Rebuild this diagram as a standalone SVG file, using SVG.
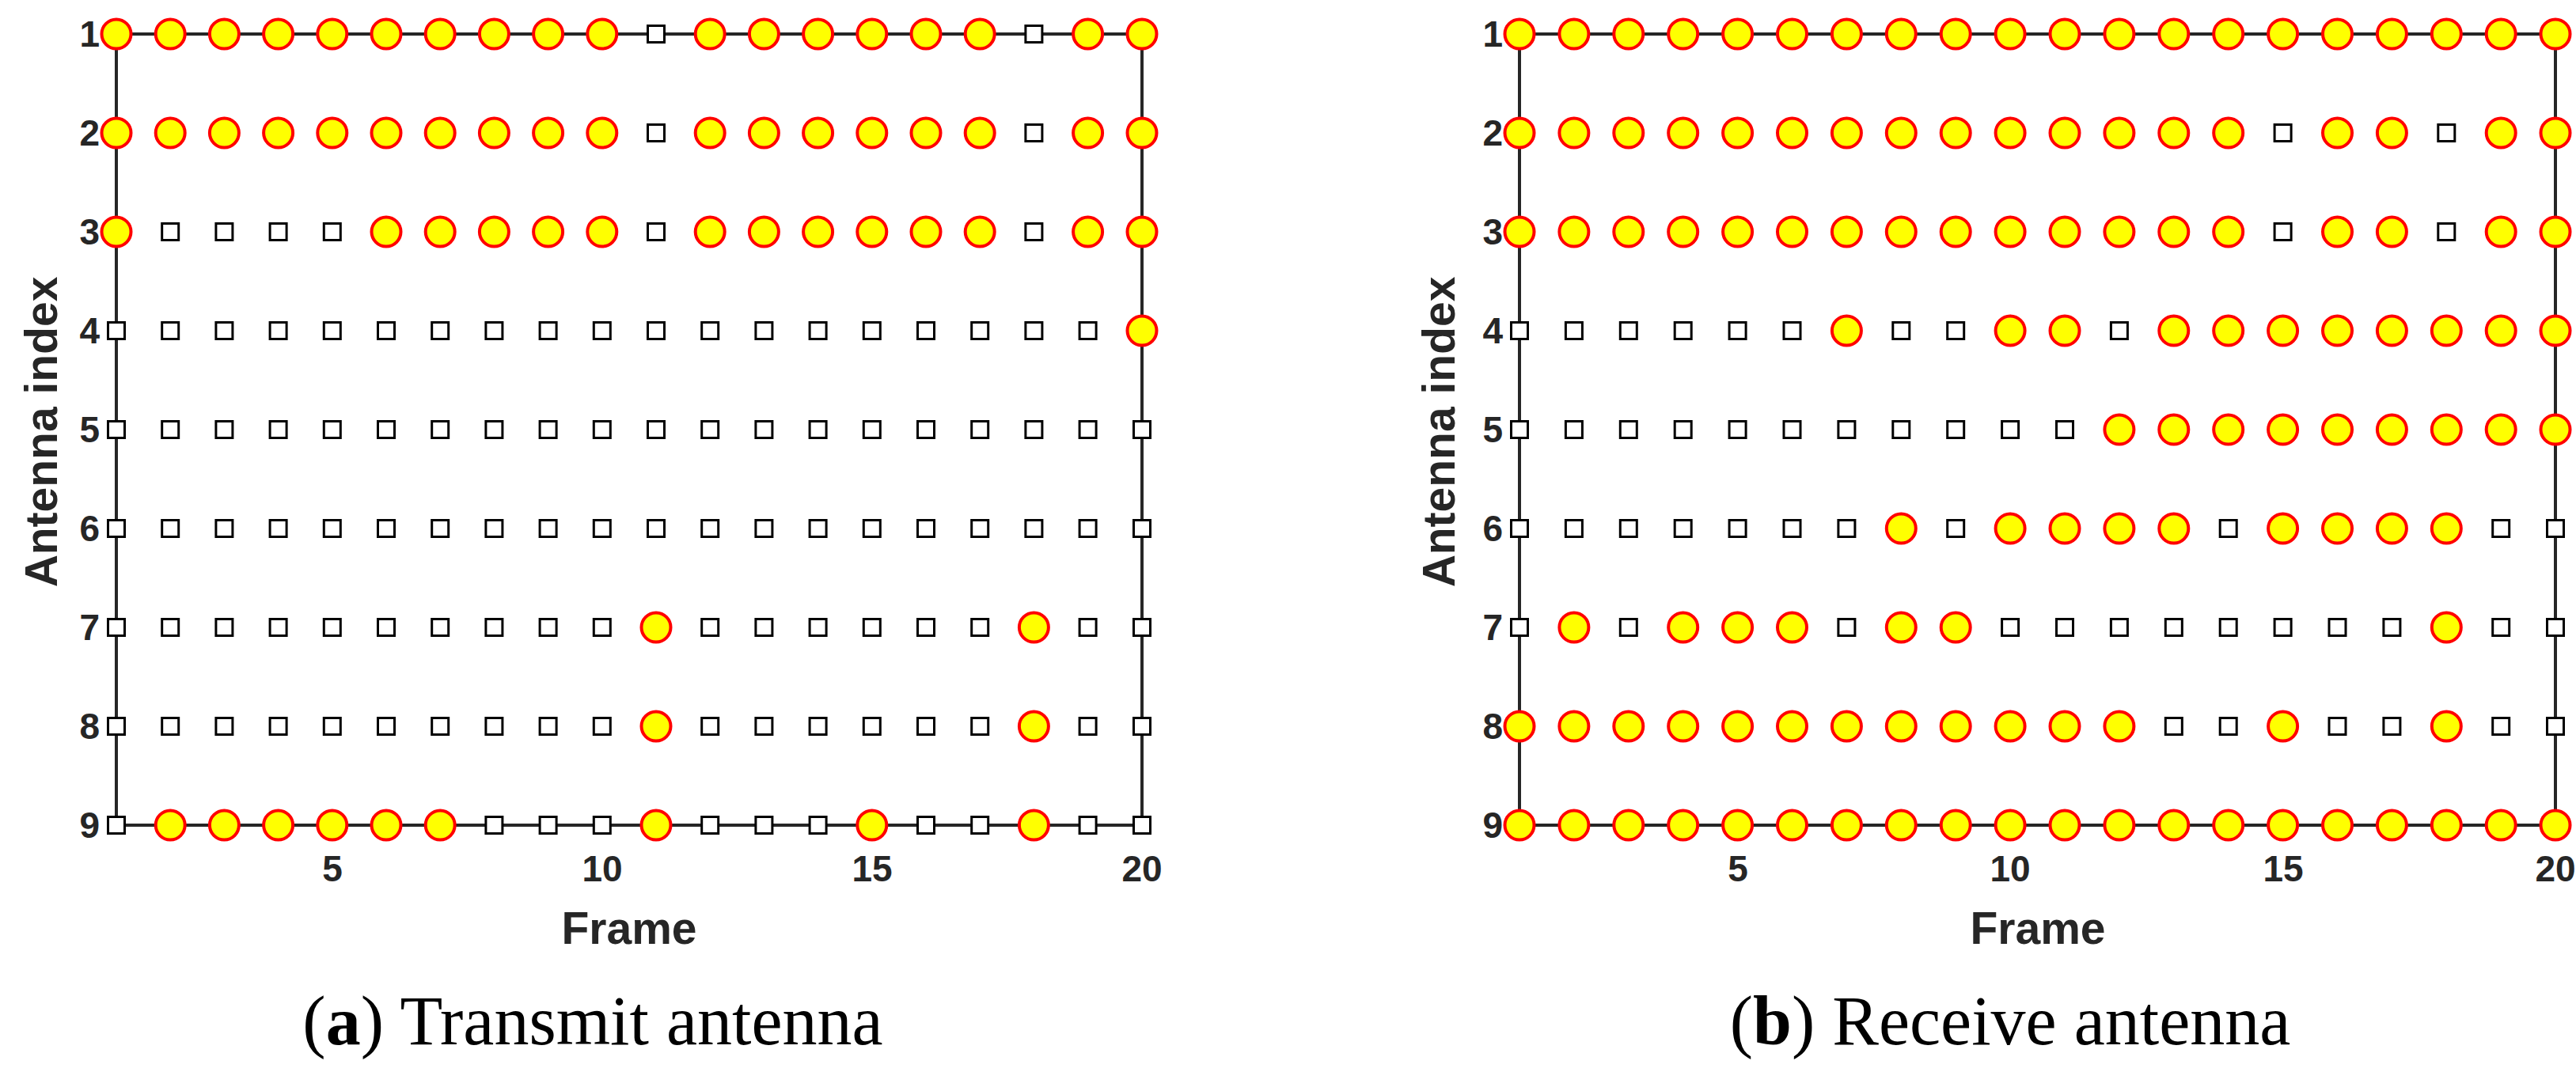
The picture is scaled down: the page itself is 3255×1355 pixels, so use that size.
<svg xmlns="http://www.w3.org/2000/svg" xmlns:xlink="http://www.w3.org/1999/xlink" width="3255" height="1355" viewBox="0 0 3255 1355">
<style>
.ax{fill:none;stroke:#262626;stroke-width:4}
.tk{font-family:"Liberation Sans",Arial,sans-serif;font-weight:bold;font-size:46px;fill:#262626}
.lb{font-family:"Liberation Sans",Arial,sans-serif;font-weight:bold;font-size:57px;fill:#262626;text-anchor:middle}
.cap{font-family:"Liberation Serif","Times New Roman",serif;font-size:88px;fill:#000;text-anchor:middle}
</style>
<defs>
<circle id="c" r="18.5" fill="#ffff00" stroke="#ff0000" stroke-width="4"/>
<rect id="s" x="-10.5" y="-10.5" width="21" height="21" fill="#fff" stroke="#000" stroke-width="3"/>
</defs>
<rect width="3255" height="1355" fill="#fff"/>
<g id="panelA">
<rect class="ax" x="147" y="43" width="1296" height="1000"/>
<g class="tk" text-anchor="end">
<text x="126" y="59">1</text><text x="126" y="184">2</text><text x="126" y="309">3</text><text x="126" y="434">4</text><text x="126" y="559">5</text><text x="126" y="684">6</text><text x="126" y="809">7</text><text x="126" y="934">8</text><text x="126" y="1059">9</text>
</g>
<g class="tk" text-anchor="middle">
<text x="420" y="1114">5</text><text x="761" y="1114">10</text><text x="1102" y="1114">15</text><text x="1443" y="1114">20</text>
</g>
<text class="lb" x="795" y="1193">Frame</text>
<text class="lb" transform="translate(72,546) rotate(-90)">Antenna index</text>
<g transform="translate(147,43)"><use href="#c" x="0"/><use href="#c" x="68.2"/><use href="#c" x="136.4"/><use href="#c" x="204.6"/><use href="#c" x="272.8"/><use href="#c" x="341"/><use href="#c" x="409.2"/><use href="#c" x="477.4"/><use href="#c" x="545.6"/><use href="#c" x="613.8"/><use href="#s" x="682"/><use href="#c" x="750.2"/><use href="#c" x="818.4"/><use href="#c" x="886.6"/><use href="#c" x="954.8"/><use href="#c" x="1023"/><use href="#c" x="1091.2"/><use href="#s" x="1159.4"/><use href="#c" x="1227.6"/><use href="#c" x="1296"/></g>
<g transform="translate(147,168)"><use href="#c" x="0"/><use href="#c" x="68.2"/><use href="#c" x="136.4"/><use href="#c" x="204.6"/><use href="#c" x="272.8"/><use href="#c" x="341"/><use href="#c" x="409.2"/><use href="#c" x="477.4"/><use href="#c" x="545.6"/><use href="#c" x="613.8"/><use href="#s" x="682"/><use href="#c" x="750.2"/><use href="#c" x="818.4"/><use href="#c" x="886.6"/><use href="#c" x="954.8"/><use href="#c" x="1023"/><use href="#c" x="1091.2"/><use href="#s" x="1159.4"/><use href="#c" x="1227.6"/><use href="#c" x="1296"/></g>
<g transform="translate(147,293)"><use href="#c" x="0"/><use href="#s" x="68.2"/><use href="#s" x="136.4"/><use href="#s" x="204.6"/><use href="#s" x="272.8"/><use href="#c" x="341"/><use href="#c" x="409.2"/><use href="#c" x="477.4"/><use href="#c" x="545.6"/><use href="#c" x="613.8"/><use href="#s" x="682"/><use href="#c" x="750.2"/><use href="#c" x="818.4"/><use href="#c" x="886.6"/><use href="#c" x="954.8"/><use href="#c" x="1023"/><use href="#c" x="1091.2"/><use href="#s" x="1159.4"/><use href="#c" x="1227.6"/><use href="#c" x="1296"/></g>
<g transform="translate(147,418)"><use href="#s" x="0"/><use href="#s" x="68.2"/><use href="#s" x="136.4"/><use href="#s" x="204.6"/><use href="#s" x="272.8"/><use href="#s" x="341"/><use href="#s" x="409.2"/><use href="#s" x="477.4"/><use href="#s" x="545.6"/><use href="#s" x="613.8"/><use href="#s" x="682"/><use href="#s" x="750.2"/><use href="#s" x="818.4"/><use href="#s" x="886.6"/><use href="#s" x="954.8"/><use href="#s" x="1023"/><use href="#s" x="1091.2"/><use href="#s" x="1159.4"/><use href="#s" x="1227.6"/><use href="#c" x="1296"/></g>
<g transform="translate(147,543)"><use href="#s" x="0"/><use href="#s" x="68.2"/><use href="#s" x="136.4"/><use href="#s" x="204.6"/><use href="#s" x="272.8"/><use href="#s" x="341"/><use href="#s" x="409.2"/><use href="#s" x="477.4"/><use href="#s" x="545.6"/><use href="#s" x="613.8"/><use href="#s" x="682"/><use href="#s" x="750.2"/><use href="#s" x="818.4"/><use href="#s" x="886.6"/><use href="#s" x="954.8"/><use href="#s" x="1023"/><use href="#s" x="1091.2"/><use href="#s" x="1159.4"/><use href="#s" x="1227.6"/><use href="#s" x="1296"/></g>
<g transform="translate(147,668)"><use href="#s" x="0"/><use href="#s" x="68.2"/><use href="#s" x="136.4"/><use href="#s" x="204.6"/><use href="#s" x="272.8"/><use href="#s" x="341"/><use href="#s" x="409.2"/><use href="#s" x="477.4"/><use href="#s" x="545.6"/><use href="#s" x="613.8"/><use href="#s" x="682"/><use href="#s" x="750.2"/><use href="#s" x="818.4"/><use href="#s" x="886.6"/><use href="#s" x="954.8"/><use href="#s" x="1023"/><use href="#s" x="1091.2"/><use href="#s" x="1159.4"/><use href="#s" x="1227.6"/><use href="#s" x="1296"/></g>
<g transform="translate(147,793)"><use href="#s" x="0"/><use href="#s" x="68.2"/><use href="#s" x="136.4"/><use href="#s" x="204.6"/><use href="#s" x="272.8"/><use href="#s" x="341"/><use href="#s" x="409.2"/><use href="#s" x="477.4"/><use href="#s" x="545.6"/><use href="#s" x="613.8"/><use href="#c" x="682"/><use href="#s" x="750.2"/><use href="#s" x="818.4"/><use href="#s" x="886.6"/><use href="#s" x="954.8"/><use href="#s" x="1023"/><use href="#s" x="1091.2"/><use href="#c" x="1159.4"/><use href="#s" x="1227.6"/><use href="#s" x="1296"/></g>
<g transform="translate(147,918)"><use href="#s" x="0"/><use href="#s" x="68.2"/><use href="#s" x="136.4"/><use href="#s" x="204.6"/><use href="#s" x="272.8"/><use href="#s" x="341"/><use href="#s" x="409.2"/><use href="#s" x="477.4"/><use href="#s" x="545.6"/><use href="#s" x="613.8"/><use href="#c" x="682"/><use href="#s" x="750.2"/><use href="#s" x="818.4"/><use href="#s" x="886.6"/><use href="#s" x="954.8"/><use href="#s" x="1023"/><use href="#s" x="1091.2"/><use href="#c" x="1159.4"/><use href="#s" x="1227.6"/><use href="#s" x="1296"/></g>
<g transform="translate(147,1043)"><use href="#s" x="0"/><use href="#c" x="68.2"/><use href="#c" x="136.4"/><use href="#c" x="204.6"/><use href="#c" x="272.8"/><use href="#c" x="341"/><use href="#c" x="409.2"/><use href="#s" x="477.4"/><use href="#s" x="545.6"/><use href="#s" x="613.8"/><use href="#c" x="682"/><use href="#s" x="750.2"/><use href="#s" x="818.4"/><use href="#s" x="886.6"/><use href="#c" x="954.8"/><use href="#s" x="1023"/><use href="#s" x="1091.2"/><use href="#c" x="1159.4"/><use href="#s" x="1227.6"/><use href="#s" x="1296"/></g>
<text class="cap" x="749" y="1320">(<tspan font-weight="bold">a</tspan>) Transmit antenna</text>
</g>
<g id="panelB">
<rect class="ax" x="1920" y="43" width="1309" height="1000"/>
<g class="tk" text-anchor="end">
<text x="1899" y="59">1</text><text x="1899" y="184">2</text><text x="1899" y="309">3</text><text x="1899" y="434">4</text><text x="1899" y="559">5</text><text x="1899" y="684">6</text><text x="1899" y="809">7</text><text x="1899" y="934">8</text><text x="1899" y="1059">9</text>
</g>
<g class="tk" text-anchor="middle">
<text x="2196" y="1114">5</text><text x="2540" y="1114">10</text><text x="2885" y="1114">15</text><text x="3229" y="1114">20</text>
</g>
<text class="lb" x="2575" y="1193">Frame</text>
<text class="lb" transform="translate(1838,546) rotate(-90)">Antenna index</text>
<g transform="translate(1920,43)"><use href="#c" x="0"/><use href="#c" x="68.9"/><use href="#c" x="137.8"/><use href="#c" x="206.7"/><use href="#c" x="275.6"/><use href="#c" x="344.5"/><use href="#c" x="413.4"/><use href="#c" x="482.3"/><use href="#c" x="551.2"/><use href="#c" x="620.1"/><use href="#c" x="689"/><use href="#c" x="757.9"/><use href="#c" x="826.8"/><use href="#c" x="895.7"/><use href="#c" x="964.6"/><use href="#c" x="1033.5"/><use href="#c" x="1102.4"/><use href="#c" x="1171.3"/><use href="#c" x="1240.2"/><use href="#c" x="1309"/></g>
<g transform="translate(1920,168)"><use href="#c" x="0"/><use href="#c" x="68.9"/><use href="#c" x="137.8"/><use href="#c" x="206.7"/><use href="#c" x="275.6"/><use href="#c" x="344.5"/><use href="#c" x="413.4"/><use href="#c" x="482.3"/><use href="#c" x="551.2"/><use href="#c" x="620.1"/><use href="#c" x="689"/><use href="#c" x="757.9"/><use href="#c" x="826.8"/><use href="#c" x="895.7"/><use href="#s" x="964.6"/><use href="#c" x="1033.5"/><use href="#c" x="1102.4"/><use href="#s" x="1171.3"/><use href="#c" x="1240.2"/><use href="#c" x="1309"/></g>
<g transform="translate(1920,293)"><use href="#c" x="0"/><use href="#c" x="68.9"/><use href="#c" x="137.8"/><use href="#c" x="206.7"/><use href="#c" x="275.6"/><use href="#c" x="344.5"/><use href="#c" x="413.4"/><use href="#c" x="482.3"/><use href="#c" x="551.2"/><use href="#c" x="620.1"/><use href="#c" x="689"/><use href="#c" x="757.9"/><use href="#c" x="826.8"/><use href="#c" x="895.7"/><use href="#s" x="964.6"/><use href="#c" x="1033.5"/><use href="#c" x="1102.4"/><use href="#s" x="1171.3"/><use href="#c" x="1240.2"/><use href="#c" x="1309"/></g>
<g transform="translate(1920,418)"><use href="#s" x="0"/><use href="#s" x="68.9"/><use href="#s" x="137.8"/><use href="#s" x="206.7"/><use href="#s" x="275.6"/><use href="#s" x="344.5"/><use href="#c" x="413.4"/><use href="#s" x="482.3"/><use href="#s" x="551.2"/><use href="#c" x="620.1"/><use href="#c" x="689"/><use href="#s" x="757.9"/><use href="#c" x="826.8"/><use href="#c" x="895.7"/><use href="#c" x="964.6"/><use href="#c" x="1033.5"/><use href="#c" x="1102.4"/><use href="#c" x="1171.3"/><use href="#c" x="1240.2"/><use href="#c" x="1309"/></g>
<g transform="translate(1920,543)"><use href="#s" x="0"/><use href="#s" x="68.9"/><use href="#s" x="137.8"/><use href="#s" x="206.7"/><use href="#s" x="275.6"/><use href="#s" x="344.5"/><use href="#s" x="413.4"/><use href="#s" x="482.3"/><use href="#s" x="551.2"/><use href="#s" x="620.1"/><use href="#s" x="689"/><use href="#c" x="757.9"/><use href="#c" x="826.8"/><use href="#c" x="895.7"/><use href="#c" x="964.6"/><use href="#c" x="1033.5"/><use href="#c" x="1102.4"/><use href="#c" x="1171.3"/><use href="#c" x="1240.2"/><use href="#c" x="1309"/></g>
<g transform="translate(1920,668)"><use href="#s" x="0"/><use href="#s" x="68.9"/><use href="#s" x="137.8"/><use href="#s" x="206.7"/><use href="#s" x="275.6"/><use href="#s" x="344.5"/><use href="#s" x="413.4"/><use href="#c" x="482.3"/><use href="#s" x="551.2"/><use href="#c" x="620.1"/><use href="#c" x="689"/><use href="#c" x="757.9"/><use href="#c" x="826.8"/><use href="#s" x="895.7"/><use href="#c" x="964.6"/><use href="#c" x="1033.5"/><use href="#c" x="1102.4"/><use href="#c" x="1171.3"/><use href="#s" x="1240.2"/><use href="#s" x="1309"/></g>
<g transform="translate(1920,793)"><use href="#s" x="0"/><use href="#c" x="68.9"/><use href="#s" x="137.8"/><use href="#c" x="206.7"/><use href="#c" x="275.6"/><use href="#c" x="344.5"/><use href="#s" x="413.4"/><use href="#c" x="482.3"/><use href="#c" x="551.2"/><use href="#s" x="620.1"/><use href="#s" x="689"/><use href="#s" x="757.9"/><use href="#s" x="826.8"/><use href="#s" x="895.7"/><use href="#s" x="964.6"/><use href="#s" x="1033.5"/><use href="#s" x="1102.4"/><use href="#c" x="1171.3"/><use href="#s" x="1240.2"/><use href="#s" x="1309"/></g>
<g transform="translate(1920,918)"><use href="#c" x="0"/><use href="#c" x="68.9"/><use href="#c" x="137.8"/><use href="#c" x="206.7"/><use href="#c" x="275.6"/><use href="#c" x="344.5"/><use href="#c" x="413.4"/><use href="#c" x="482.3"/><use href="#c" x="551.2"/><use href="#c" x="620.1"/><use href="#c" x="689"/><use href="#c" x="757.9"/><use href="#s" x="826.8"/><use href="#s" x="895.7"/><use href="#c" x="964.6"/><use href="#s" x="1033.5"/><use href="#s" x="1102.4"/><use href="#c" x="1171.3"/><use href="#s" x="1240.2"/><use href="#s" x="1309"/></g>
<g transform="translate(1920,1043)"><use href="#c" x="0"/><use href="#c" x="68.9"/><use href="#c" x="137.8"/><use href="#c" x="206.7"/><use href="#c" x="275.6"/><use href="#c" x="344.5"/><use href="#c" x="413.4"/><use href="#c" x="482.3"/><use href="#c" x="551.2"/><use href="#c" x="620.1"/><use href="#c" x="689"/><use href="#c" x="757.9"/><use href="#c" x="826.8"/><use href="#c" x="895.7"/><use href="#c" x="964.6"/><use href="#c" x="1033.5"/><use href="#c" x="1102.4"/><use href="#c" x="1171.3"/><use href="#c" x="1240.2"/><use href="#c" x="1309"/></g>
<text class="cap" x="2540" y="1320">(<tspan font-weight="bold">b</tspan>) Receive antenna</text>
</g>
</svg>
